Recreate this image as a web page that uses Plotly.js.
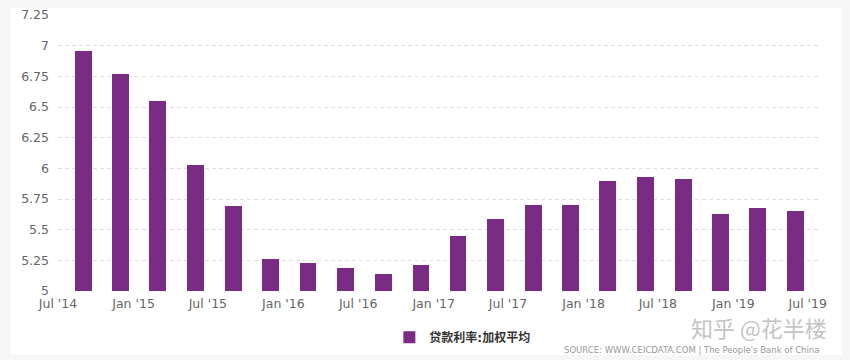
<!DOCTYPE html>
<html>
<head>
<meta charset="utf-8">
<script src="https://cdn.plot.ly/plotly-3.0.1.min.js"></script>
<style>html,body{margin:0;padding:0;background:#f6f6f6;}#chart{width:850px;height:360px;}</style>
</head>
<body>
<div id="chart"></div>
<script>
const dates = ['2014-09-01','2014-12-01','2015-03-01','2015-06-01','2015-09-01','2015-12-01',
  '2016-03-01','2016-06-01','2016-09-01','2016-12-01','2017-03-01','2017-06-01',
  '2017-09-01','2017-12-01','2018-03-01','2018-06-01','2018-09-01','2018-12-01',
  '2019-03-01','2019-06-01'];
const rates = [6.96,6.77,6.55,6.03,5.69,5.26,5.23,5.19,5.14,5.21,5.45,5.59,
  5.70,5.70,5.90,5.93,5.91,5.63,5.68,5.65];
const seriesName = '贷款利率:加权平均';
const tickDates = ['2014-07-01','2015-01-01','2015-07-01','2016-01-01','2016-07-01','2017-01-01',
  '2017-07-01','2018-01-01','2018-07-01','2019-01-01','2019-07-01'];
const tickLabels = ["Jul '14","Jan '15","Jul '15","Jan '16","Jul '16","Jan '17",
  "Jul '17","Jan '18","Jul '18","Jan '19","Jul '19"];
const yTicks = [5,5.25,5.5,5.75,6,6.25,6.5,6.75,7,7.25];
const yTickLabels = ['5','5.25','5.5','5.75','6','6.25','6.5','6.75','7','7.25'];

const font = '"DejaVu Sans", "Noto Sans CJK SC", sans-serif';
const trace = {
  type: 'bar', x: dates, y: rates, name: seriesName,
  marker: {color: '#7a2b84'},
  width: 41 * 86400000,
  showlegend: true,
  hoverinfo: 'x+y'
};
const layout = {
  width: 850, height: 360,
  margin: {l: 58, r: 32, t: 15, b: 69, autoexpand: false},
  paper_bgcolor: '#f6f6f6',
  plot_bgcolor: '#ffffff',
  font: {family: font, color: '#666666', size: 12},
  xaxis: {
    type: 'date', range: ['2014-07-01','2019-07-26'],
    tickmode: 'array', tickvals: tickDates, ticktext: tickLabels,
    showgrid: false, zeroline: false, showline: false, ticks: '',
    ticklabelstandoff: 3,
    tickfont: {size: 12.5, color: '#666666'}
  },
  yaxis: {
    range: [5, 7.25], tickmode: 'array', tickvals: yTicks, ticktext: yTickLabels,
    showgrid: true, gridcolor: '#dedede', griddash: '4px,3px', gridwidth: 1,
    zeroline: false, showline: false, ticks: '', ticklabelstandoff: 8,
    tickfont: {size: 12.5, color: '#666666'}
  },
  showlegend: true,
  legend: {
    orientation: 'h', x: 0.436, xanchor: 'left', y: -0.115, yanchor: 'top',
    font: {size: 12, color: '#333333', family: font, weight: 'bold'},
    bgcolor: 'rgba(0,0,0,0)', itemwidth: 30
  },
  bargap: 0,
  shapes: [{
    type: 'rect', xref: 'paper', yref: 'paper', layer: 'below',
    x0: -0.0618, x1: 1.0316, y0: -0.2319, y1: 1.0254,
    fillcolor: '#ffffff', line: {width: 0}
  }],
  annotations: [
    {xref: 'paper', yref: 'paper', x: 1.0132, y: -0.0688, xanchor: 'right', yanchor: 'top',
     text: '知乎 @花半楼', showarrow: false, borderpad: 0,
     font: {size: 22, color: '#c4c4c4', family: '"Noto Sans CJK SC", sans-serif'}},
    {xref: 'paper', yref: 'paper', x: 1.0026, y: -0.212, xanchor: 'right', yanchor: 'middle',
     text: "SOURCE: WWW.CEICDATA.COM | The People's Bank of China", showarrow: false, borderpad: 0,
     font: {size: 8.5, color: '#999999', family: font}}
  ]
};
Plotly.newPlot('chart', [trace], layout, {displayModeBar: false, staticPlot: true});
</script>
</body>
</html>
